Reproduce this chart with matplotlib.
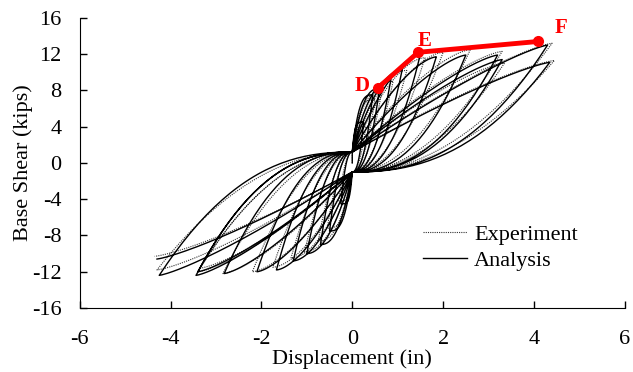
import numpy as np
import matplotlib.pyplot as plt

plt.rcParams['font.family'] = ['Liberation Serif', 'DejaVu Serif']
plt.rcParams['axes.unicode_minus'] = False

# cycle peaks (displacement in, shear kips), analysis model
ana_pos_disp = [0.25, 0.45, 0.6, 0.85, 1.1, 1.5, 1.85, 2.5, 3.2, 3.3, 4.3, 4.35]
ana_pos_force = [4.5, 7.5, 8.2, 9.2, 10.3, 12.0, 11.7, 11.9, 11.9, 11.4, 13.0, 11.1]
ana_neg_disp = [-0.25, -0.5, -0.7, -1.0, -1.3, -1.67, -2.1, -2.82, -3.44, -3.4, -4.25, -4.3]
ana_neg_force = [-4.5, -7.5, -9.0, -10.0, -10.8, -11.8, -12.0, -12.2, -12.4, -12.0, -12.4, -10.6]

# cycle peaks, test record
exp_pos_disp = [0.3, 0.5, 0.65, 0.9, 1.2, 1.6, 2.0, 2.6, 3.3, 3.35, 4.4, 4.45]
exp_pos_force = [4.0, 7.0, 7.9, 9.0, 10.2, 11.6, 12.2, 12.5, 12.3, 11.0, 13.2, 11.3]
exp_neg_disp = [-0.3, -0.55, -0.75, -1.05, -1.35, -1.75, -2.2, -2.85, -3.4, -3.35, -4.3, -4.35]
exp_neg_force = [-4.2, -7.2, -8.6, -9.8, -10.5, -11.5, -12.0, -12.2, -12.0, -11.6, -11.8, -10.3]

# backbone points D, E, F
bb_disp = [0.57, 1.45, 4.1]
bb_force = [8.3, 12.2, 13.4]
bb_labels = ['D', 'E', 'F']


def half_cycle(xa, fa, xb, fb, fpin, r, k):
    # unload from (xa, fa) down to the pinch at zero displacement,
    # then reload towards (xb, fb); small cycles reload stiffer
    u = np.linspace(1, 0, 50)
    x1 = xa * u
    f1 = fpin + (fa - fpin) * u ** r
    q = 1 + k / abs(xb)
    v = np.linspace(0, 1, 70)
    x2 = xb * v
    f2 = fpin + (fb - fpin) * (1 - (1 - v) ** q)
    return np.r_[x1, x2], np.r_[f1, f2]


def hysteresis(pd, pf, nd, nf, r, k):
    xs, fs = [np.array([0.0])], [np.array([0.0])]
    x0, f0 = 0.0, 0.0
    for i in range(len(pd)):
        x, f = half_cycle(x0, f0, pd[i], pf[i], 1.2, r, k)
        xs.append(x); fs.append(f)
        x, f = half_cycle(pd[i], pf[i], nd[i], nf[i], -1.0, r, k)
        xs.append(x); fs.append(f)
        x0, f0 = nd[i], nf[i]
    return np.concatenate(xs), np.concatenate(fs)


fig = plt.figure(figsize=(6.33, 3.72), dpi=100)
ax = fig.add_axes([0.126, 0.172, 0.861, 0.78])

ex, ef = hysteresis(exp_pos_disp, exp_pos_force, exp_neg_disp, exp_neg_force, 2.1, 1.2)
ax.plot(ex, ef, color='#333333', lw=0.8, dashes=(1, 1), label='Experiment')
axx, aff = hysteresis(ana_pos_disp, ana_pos_force, ana_neg_disp, ana_neg_force, 2.4, 1.0)
ax.plot(axx, aff, ls='-', color='black', lw=1.0, label='Analysis')

ax.plot(bb_disp, bb_force, color='red', lw=3.5, marker='o', ms=7, zorder=5)
offsets = [(-0.35, 0.2), (0.15, 1.3), (0.5, 1.5)]
for x, f, s, (dx, dy) in zip(bb_disp, bb_force, bb_labels, offsets):
    ax.text(x + dx, f + dy, s, color='red', fontsize=15, fontweight='bold',
            ha='center', va='center')

ax.set_xlim(-6, 6)
ax.set_ylim(-16, 16)
ax.set_xticks(np.arange(-6, 7, 2))
ax.set_yticks(np.arange(-16, 17, 4))
ax.tick_params(direction='in', length=5, labelsize=16, width=1)
ax.tick_params(axis='x', pad=16)
ax.tick_params(axis='y', pad=13)
ax.spines['top'].set_visible(False)
ax.spines['right'].set_visible(False)
ax.set_xlabel('Displacement (in)', fontsize=16, labelpad=0)
ax.set_ylabel('Base Shear (kips)', fontsize=16, labelpad=-1)

ax.legend(loc='upper left', bbox_to_anchor=(0.609, 0.327), frameon=False,
          fontsize=16, handlelength=2.0, handletextpad=0.3, borderpad=0,
          labelspacing=0.25)

fig.savefig('out.png', dpi=100)
